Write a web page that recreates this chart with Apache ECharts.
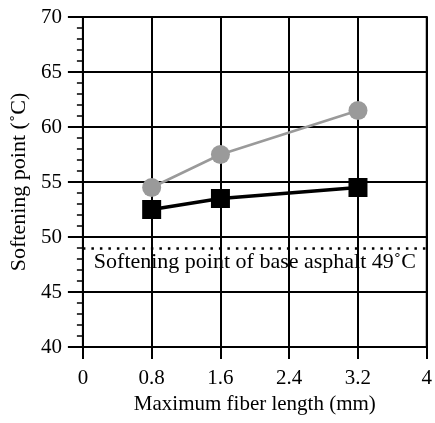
<!DOCTYPE html>
<html>
<head>
<meta charset="utf-8">
<script src="https://cdn.jsdelivr.net/npm/echarts@6/dist/echarts.min.js"></script>
<style>
  html, body { margin: 0; padding: 0; background: #fff; }
  #chart { width: 435px; height: 423px; }
</style>
</head>
<body>
<div id="chart"></div>
<script>
// fiber length (mm) vs softening point
const fiberLength = [0.8, 1.6, 3.2]
const graySeries = [54.5, 57.5, 61.5]
const blackSeries = [52.5, 53.5, 54.5]
const baseAsphalt = 49
const baseLabel = 'Softening point of base asphalt 49˚C'

const font = 'Liberation Serif'
const chart = echarts.init(document.getElementById('chart'))

const option = {
  animation: false,
  backgroundColor: '#fff',
  textStyle: { fontFamily: font, color: '#000' },
  grid: {
    left: 81,
    right: 7,
    top: 17,
    bottom: 76,
    show: true,
    borderColor: '#000',
    borderWidth: 2
  },
  xAxis: {
    type: 'value',
    min: 0,
    max: 4,
    interval: 0.8,
    name: 'Maximum fiber length (mm)',
    nameLocation: 'middle',
    nameGap: 46,
    nameTextStyle: { fontFamily: font, fontSize: 21, color: '#000' },
    axisLine: { show: true, lineStyle: { color: '#000', width: 2 } },
    axisTick: { show: true, inside: false, length: 12, lineStyle: { color: '#000', width: 2 } },
    axisLabel: {
      margin: 21,
      fontFamily: font,
      fontSize: 21,
      color: '#000',
      formatter: (v) => String(+v.toFixed(1))
    },
    splitLine: { show: true, lineStyle: { color: '#000', width: 2 } }
  },
  yAxis: {
    type: 'value',
    min: 40,
    max: 70,
    interval: 5,
    name: 'Softening point (˚C)',
    nameLocation: 'middle',
    nameGap: 49,
    nameTextStyle: { fontFamily: font, fontSize: 22, color: '#000' },
    axisLine: { show: true, lineStyle: { color: '#000', width: 2 } },
    axisTick: { show: true, inside: false, length: 15, lineStyle: { color: '#000', width: 2 } },
    minorTick: { show: true, splitNumber: 5, length: 6, lineStyle: { color: '#000', width: 1.5 } },
    axisLabel: { margin: 21, fontFamily: font, fontSize: 21, color: '#000' },
    splitLine: { show: true, lineStyle: { color: '#000', width: 2 } }
  },
  series: [
    {
      name: 'gray',
      type: 'line',
      data: fiberLength.map((x, i) => [x, graySeries[i]]),
      symbol: 'circle',
      symbolSize: 19,
      itemStyle: { color: '#9a9a9a' },
      lineStyle: { color: '#9a9a9a', width: 2.5 },
      z: 3
    },
    {
      name: 'black',
      type: 'line',
      data: fiberLength.map((x, i) => [x, blackSeries[i]]),
      symbol: 'rect',
      symbolSize: 19,
      itemStyle: { color: '#000' },
      lineStyle: { color: '#000', width: 3.5 },
      z: 4,
      markLine: {
        silent: true,
        symbol: 'none',
        lineStyle: { color: '#000', type: [2.5, 6], width: 2.5 },
        label: {
          show: true,
          position: 'insideMiddleBottom',
          distance: 3,
          formatter: baseLabel,
          fontFamily: font,
          fontSize: 22,
          color: '#000'
        },
        data: [{ yAxis: baseAsphalt }]
      }
    }
  ]
}

chart.setOption(option)
</script>
</body>
</html>
